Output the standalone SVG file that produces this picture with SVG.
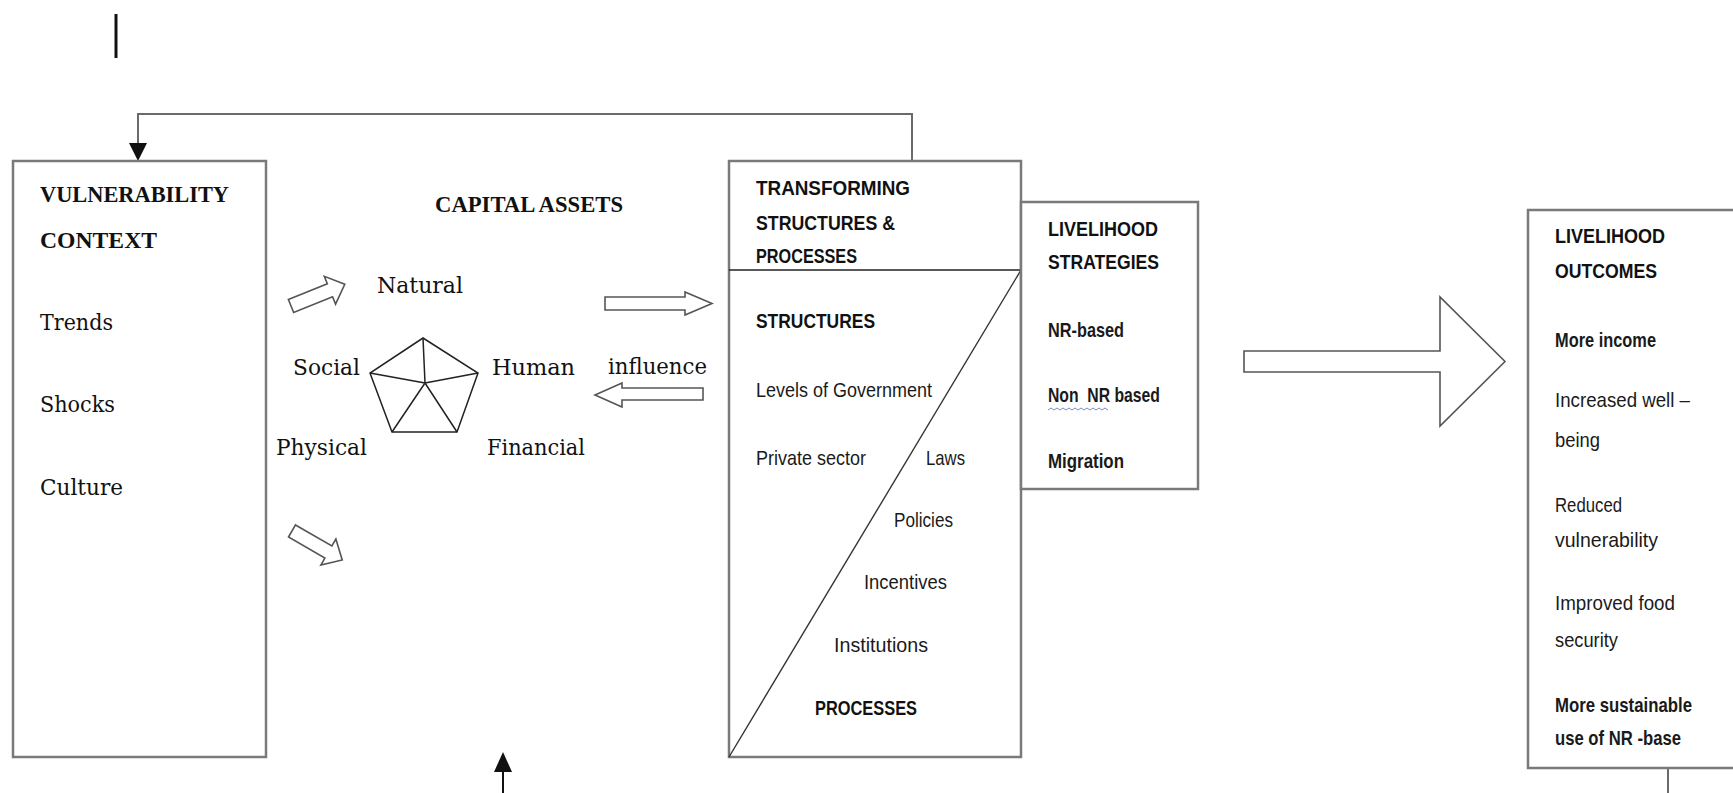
<svg xmlns="http://www.w3.org/2000/svg" width="1733" height="793" viewBox="0 0 1733 793">
<style>
.box{fill:#fff;stroke:#7a7a7a;stroke-width:2.5}
.conn{fill:none;stroke:#6a6a6a;stroke-width:2}
.hollow{fill:#fff;stroke:#555;stroke-width:1.6;stroke-linejoin:miter}
.pent{fill:none;stroke:#222;stroke-width:1.5}
.sb{font-family:"Liberation Serif","Times New Roman",serif;font-weight:bold;font-size:24px;fill:#111}
.sr{font-family:"DejaVu Serif","Liberation Serif",serif;font-size:22px;fill:#111}
.hb{font-family:"Liberation Sans",Arial,sans-serif;font-weight:bold;font-size:21px;fill:#111}
.hr{font-family:"Liberation Sans",Arial,sans-serif;font-size:21px;fill:#1a1a1a}
</style>
<defs>
<path id="smallArrow" d="M0,-7 L42,-7 L42,-15 L58,0 L42,15 L42,7 L0,7 Z"/>
</defs>
<rect width="1733" height="793" fill="#fff"/>

<g id="connectors">
<line x1="116" y1="14" x2="116" y2="58" stroke="#111" stroke-width="3"/>
<polyline class="conn" points="138,147 138,114 912,114 912,161"/>
<polygon points="129,143 147,143 138,161" fill="#111"/>
<line x1="503" y1="770" x2="503" y2="793" stroke="#111" stroke-width="2"/>
<polygon points="494,772 512,772 503,752" fill="#111"/>
<line x1="1668" y1="768" x2="1668" y2="793" stroke="#6a6a6a" stroke-width="2"/>
<use href="#smallArrow" class="hollow" transform="translate(291,306) rotate(-22)"/>
<use href="#smallArrow" class="hollow" transform="translate(292,531) rotate(30)"/>
<path class="hollow" d="M605,297 L685,297 L685,292 L712,303.5 L685,315 L685,310 L605,310 Z"/>
<path class="hollow" d="M703,388 L622,388 L622,383 L595,395 L622,407 L622,400 L703,400 Z"/>
<path class="hollow" d="M1244,351 L1440,351 L1440,297 L1505,361.5 L1440,426 L1440,372 L1244,372 Z"/>
</g>

<g id="vulnerability-context">
<rect class="box" x="13" y="161" width="253" height="596"/>
<text class="sb" x="40" y="202" textLength="189" lengthAdjust="spacingAndGlyphs">VULNERABILITY</text>
<text class="sb" x="40" y="248" textLength="117" lengthAdjust="spacingAndGlyphs">CONTEXT</text>
<text class="sr" x="40" y="330" textLength="73" lengthAdjust="spacingAndGlyphs">Trends</text>
<text class="sr" x="40" y="412" textLength="75" lengthAdjust="spacingAndGlyphs">Shocks</text>
<text class="sr" x="40" y="495" textLength="83" lengthAdjust="spacingAndGlyphs">Culture</text>
</g>

<g id="capital-assets">
<text class="sb" x="435" y="212" textLength="188" lengthAdjust="spacingAndGlyphs">CAPITAL ASSETS</text>
<polygon class="pent" points="423,338 478,373 457,432 392,432 370,373"/>
<path class="pent" d="M425,383 L423,338 M425,383 L478,373 M425,383 L457,432 M425,383 L392,432 M425,383 L370,373"/>
<text class="sr" x="377" y="293" textLength="86" lengthAdjust="spacingAndGlyphs">Natural</text>
<text class="sr" x="293" y="375" textLength="67" lengthAdjust="spacingAndGlyphs">Social</text>
<text class="sr" x="492" y="375" textLength="83" lengthAdjust="spacingAndGlyphs">Human</text>
<text class="sr" x="276" y="455" textLength="91" lengthAdjust="spacingAndGlyphs" fill="#1b1b3a">Physical</text>
<text class="sr" x="487" y="455" textLength="98" lengthAdjust="spacingAndGlyphs" fill="#1b1b3a">Financial</text>
<text class="sr" x="608" y="374" textLength="99" lengthAdjust="spacingAndGlyphs">influence</text>
</g>

<g id="transforming-structures">
<rect class="box" x="729" y="161" width="292" height="596"/>
<line x1="729" y1="270" x2="1021" y2="270" stroke="#222" stroke-width="1.6"/>
<line x1="729" y1="757" x2="1021" y2="270" stroke="#333" stroke-width="1.4"/>
<text class="hb" x="756" y="195" textLength="154" lengthAdjust="spacingAndGlyphs">TRANSFORMING</text>
<text class="hb" x="756" y="230" textLength="139" lengthAdjust="spacingAndGlyphs">STRUCTURES &amp;</text>
<text class="hb" x="756" y="263" textLength="101" lengthAdjust="spacingAndGlyphs">PROCESSES</text>
<text class="hb" x="756" y="328" textLength="119" lengthAdjust="spacingAndGlyphs">STRUCTURES</text>
<text class="hr" x="756" y="397" textLength="176" lengthAdjust="spacingAndGlyphs">Levels of Government</text>
<text class="hr" x="756" y="465" textLength="110" lengthAdjust="spacingAndGlyphs">Private sector</text>
<text class="hr" x="926" y="465" textLength="39" lengthAdjust="spacingAndGlyphs">Laws</text>
<text class="hr" x="894" y="527" textLength="59" lengthAdjust="spacingAndGlyphs">Policies</text>
<text class="hr" x="864" y="589" textLength="83" lengthAdjust="spacingAndGlyphs">Incentives</text>
<text class="hr" x="834" y="652" textLength="94" lengthAdjust="spacingAndGlyphs">Institutions</text>
<text class="hb" x="815" y="715" textLength="102" lengthAdjust="spacingAndGlyphs">PROCESSES</text>
</g>

<g id="livelihood-strategies">
<rect class="box" x="1021" y="202" width="177" height="287"/>
<text class="hb" x="1048" y="236" textLength="110" lengthAdjust="spacingAndGlyphs">LIVELIHOOD</text>
<text class="hb" x="1048" y="269" textLength="111" lengthAdjust="spacingAndGlyphs">STRATEGIES</text>
<text class="hr" x="1048" y="337" textLength="76" lengthAdjust="spacingAndGlyphs" font-weight="bold">NR-based</text>
<text class="hr" x="1048" y="402" textLength="112" lengthAdjust="spacingAndGlyphs" font-weight="bold" style="white-space:pre">Non  NR based</text>
<path d="M1048,410 l3,-2 l3,2 l3,-2 l3,2 l3,-2 l3,2 l3,-2 l3,2 l3,-2 l3,2 l3,-2 l3,2 l3,-2 l3,2 l3,-2 l3,2 l3,-2 l3,2 l3,-2 l3,2" fill="none" stroke="#7a8cc0" stroke-width="1"/>
<text class="hr" x="1048" y="468" textLength="76" lengthAdjust="spacingAndGlyphs" font-weight="bold">Migration</text>
</g>

<g id="livelihood-outcomes">
<rect class="box" x="1528" y="210" width="220" height="558"/>
<text class="hb" x="1555" y="243" textLength="110" lengthAdjust="spacingAndGlyphs">LIVELIHOOD</text>
<text class="hb" x="1555" y="278" textLength="102" lengthAdjust="spacingAndGlyphs">OUTCOMES</text>
<text class="hr" x="1555" y="347" textLength="101" lengthAdjust="spacingAndGlyphs" font-weight="bold">More income</text>
<text class="hr" x="1555" y="407" textLength="135" lengthAdjust="spacingAndGlyphs">Increased well –</text>
<text class="hr" x="1555" y="447" textLength="45" lengthAdjust="spacingAndGlyphs">being</text>
<text class="hr" x="1555" y="512" textLength="67" lengthAdjust="spacingAndGlyphs">Reduced</text>
<text class="hr" x="1555" y="547" textLength="103" lengthAdjust="spacingAndGlyphs">vulnerability</text>
<text class="hr" x="1555" y="610" textLength="120" lengthAdjust="spacingAndGlyphs">Improved food</text>
<text class="hr" x="1555" y="647" textLength="63" lengthAdjust="spacingAndGlyphs">security</text>
<text class="hr" x="1555" y="712" textLength="137" lengthAdjust="spacingAndGlyphs" font-weight="bold">More sustainable</text>
<text class="hr" x="1555" y="745" textLength="126" lengthAdjust="spacingAndGlyphs" font-weight="bold">use of NR -base</text>
</g>
</svg>
